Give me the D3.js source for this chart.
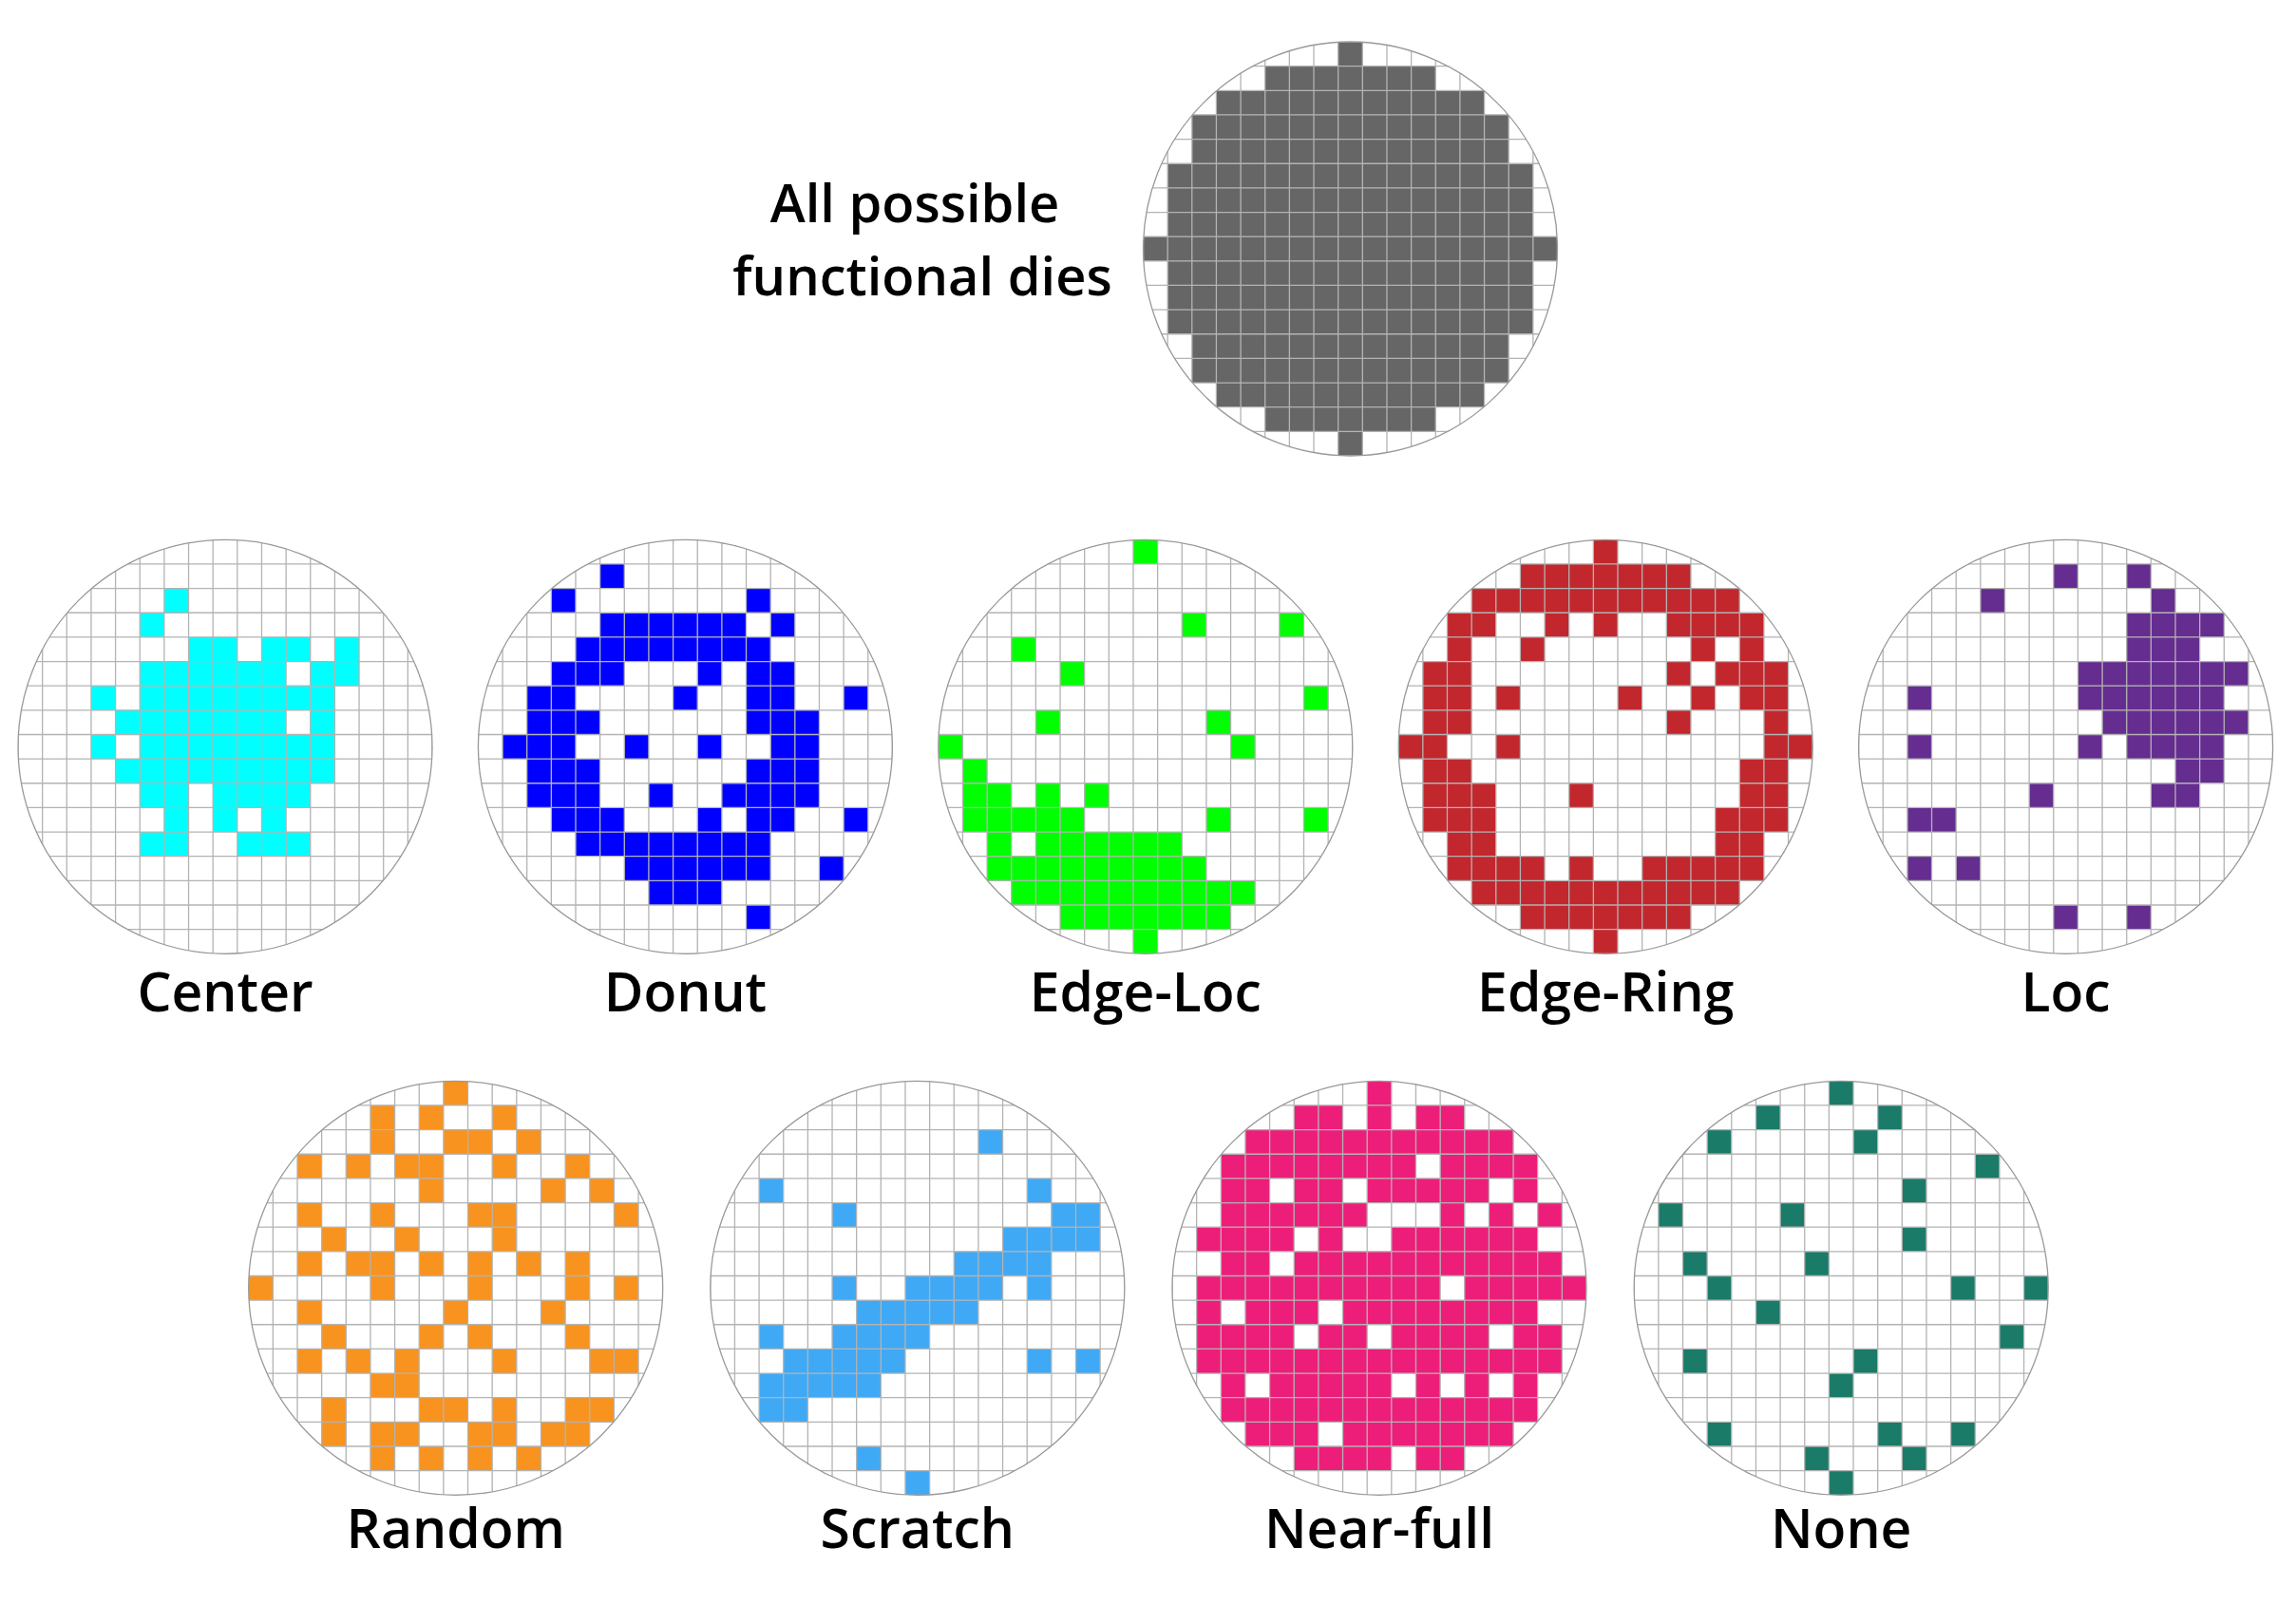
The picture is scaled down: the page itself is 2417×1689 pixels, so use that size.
<!DOCTYPE html>
<html><head><meta charset="utf-8">
<script src="https://cdn.jsdelivr.net/npm/d3@7"></script>
<style>body{margin:0;background:#fff}svg{display:block}</style>
</head><body>
<svg id="chart" width="2417" height="1689"></svg>
<script>
const N = 17;

const allDies = [
"........#........",
".....#######.....",
"...###########...",
"..#############..",
"..#############..",
".###############.",
".###############.",
".###############.",
"#################",
".###############.",
".###############.",
".###############.",
"..#############..",
"..#############..",
"...###########...",
".....#######.....",
"........#........"];

const centerMap = [
".................",
".................",
"......#..........",
".....#...........",
".......##.##.#...",
".....######.##...",
"...#.########....",
"....#######.#....",
"...#.########....",
"....#########....",
".....##.####.....",
"......#.#.#......",
".....##..###.....",
".................",
".................",
".................",
"................."];

const donutMap = [
".................",
".....#...........",
"...#.......#.....",
".....######.#....",
"....########.....",
"...###...#.##....",
"..##....#..##..#.",
"..###......###...",
".###..#..#..##...",
"..###......###...",
"..###..#..####...",
"...###...#.##..#.",
"....########.....",
"......######..#..",
".......###.......",
"...........#.....",
"................."];

const edgeLocMap = [
"........#........",
".................",
".................",
"..........#...#..",
"...#.............",
".....#...........",
"...............#.",
"....#......#.....",
"#...........#....",
".#...............",
".##.#.#..........",
".#####.....#...#.",
"..#.######.......",
"..#########......",
"...##########....",
".....#######.....",
"........#........"];

const edgeRingMap = [
"........#........",
".....#######.....",
"...###########...",
"..##..#.#..####..",
"..#..#......#.#..",
".##........#.###.",
".##.#....#..#.##.",
".##........#...#.",
"##..#..........##",
".##...........##.",
".###...#......##.",
".###.........###.",
"..##.........##..",
"..####.#..#####..",
"...###########...",
".....#######.....",
"........#........"];

const locMap = [
".................",
"........#..#.....",
".....#......#....",
"...........####..",
"...........###...",
".........#######.",
"..#......######..",
"..........######.",
"..#......#.####..",
".............##..",
".......#....##...",
"..##.............",
".................",
"..#.#............",
".................",
"........#..#.....",
"................."];

const randomMap = [
"........#........",
".....#.#..#......",
".....#..##.#.....",
"..#.#.##..#..#...",
".......#....#.#..",
"..#..#...##....#.",
"...#..#...#......",
"..#.##.#.#.#.#...",
"#....#...#...#.#.",
"..#.....#...#....",
"...#...#.#...#...",
"..#.#.#...#...##.",
".....##..........",
"...#...##.#..##..",
"...#.##..##.##...",
".....#.#.#.#.....",
"................."];

const scratchMap = [
".................",
".................",
"...........#.....",
".................",
"..#..........#...",
".....#........##.",
"............####.",
"..........####...",
".....#..####.#...",
"......#####......",
"..#..####........",
"...#####.....#.#.",
"..#####..........",
"..##.............",
".................",
"......#..........",
"........#........"];

const nearFullMap = [
"........#........",
".....##.#.##.....",
"...###########...",
"..########.####..",
"..##.##.#####.#..",
"..######...#.#.#.",
".####.#..######..",
"..##.###########.",
".##########.#####",
".#.###.########..",
".####.##.####.##.",
".###############.",
"..#.#####.#.#.#..",
"..#############..",
"...###.#######...",
".....####.##.....",
"................."];

const noneMap = [
"........#........",
".....#....#......",
"...#.....#.......",
"..............#..",
"...........#.....",
".#....#..........",
"...........#.....",
"..#....#.........",
"...#.........#..#",
".....#...........",
"...............#.",
"..#......#.......",
"........#........",
".................",
"...#......#..#...",
".......#...#.....",
"........#........"];

const patternNames  = ["Center", "Donut", "Edge-Loc", "Edge-Ring", "Loc", "Random", "Scratch", "Near-full", "None"];
const patternMaps   = [centerMap, donutMap, edgeLocMap, edgeRingMap, locMap, randomMap, scratchMap, nearFullMap, noneMap];
const patternColors = ["#00ffff", "#0000ff", "#00ff00", "#c1272d", "#662d91", "#f7931e", "#3fa9f5", "#ed1e79", "#1a7b69"];
const allDiesColor = "#666666";
const topLabelLines = ["All possible", "functional dies"];

// ---- layout ----
const S = 436;
const svg = d3.select("#chart");
const FONT = "'Open Sans', 'Noto Sans', sans-serif";

function drawWafer(x0, y0, rows, color, id) {
  const g = svg.append("g").attr("transform", `translate(${x0},${y0})`);
  const x = d3.scaleBand().domain(d3.range(N)).range([0, S]);
  const y = d3.scaleBand().domain(d3.range(N)).range([0, S]);
  g.append("clipPath").attr("id", id)
    .append("circle").attr("cx", S / 2).attr("cy", S / 2).attr("r", S / 2);
  const cells = [];
  rows.forEach((r, i) => [...r].forEach((c, j) => { if (c === "#") cells.push({ i, j }); }));
  const inner = g.append("g").attr("clip-path", `url(#${id})`);
  inner.append("rect").attr("width", S).attr("height", S).attr("fill", "#fff");
  inner.selectAll("rect.cell").data(cells).join("rect").attr("class", "cell")
    .attr("x", d => x(d.j)).attr("y", d => y(d.i))
    .attr("width", x.bandwidth()).attr("height", y.bandwidth())
    .attr("fill", color);
  const edges = d3.range(N + 1).map(k => k < N ? x(k) : S);
  inner.selectAll("line.v").data(edges).join("line").attr("class", "v")
    .attr("x1", d => d).attr("x2", d => d).attr("y1", 0).attr("y2", S)
    .attr("stroke", "#b3b3b3").attr("stroke-width", 1.3);
  inner.selectAll("line.h").data(edges).join("line").attr("class", "h")
    .attr("y1", d => d).attr("y2", d => d).attr("x1", 0).attr("x2", S)
    .attr("stroke", "#b3b3b3").attr("stroke-width", 1.3);
  g.append("circle").attr("cx", S / 2).attr("cy", S / 2).attr("r", S / 2)
    .attr("fill", "none").attr("stroke", "#999").attr("stroke-width", 1.3);
  return g;
}

// top wafer
drawWafer(1203.5, 44, allDies, allDiesColor, "clip-top");
[[963, 234], [971, 311]].forEach((p, i) => {
  svg.append("text").attr("x", p[0]).attr("y", p[1])
    .attr("font-family", FONT).attr("font-weight", 600).attr("font-size", 56)
    .attr("text-anchor", "middle").attr("fill", "#000").text(topLabelLines[i]);
});

// rows
const row1X = [19, 503.4, 987.8, 1472.2, 1956.6];
const row2X = [261.7, 747.8, 1234, 1720.2];
const rowY = [568.3, 1138.3];
const labelY = [1065, 1630];

patternNames.forEach((name, k) => {
  const r = k < 5 ? 0 : 1;
  const x0 = r === 0 ? row1X[k] : row2X[k - 5];
  drawWafer(x0, rowY[r], patternMaps[k], patternColors[k], "clip-" + k);
  svg.append("text").attr("x", x0 + S / 2).attr("y", labelY[r])
    .attr("font-family", FONT).attr("font-weight", 600).attr("font-size", 57)
    .attr("text-anchor", "middle").attr("fill", "#000").text(name);
});
</script>
</body></html>
